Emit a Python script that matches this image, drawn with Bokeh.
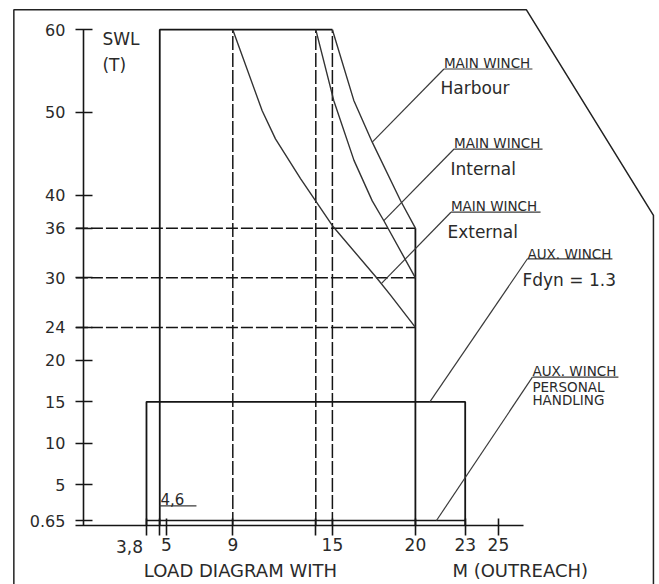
from bokeh.plotting import figure
from bokeh.models import Range1d, FixedTicker
from bokeh.core.properties import value
from bokeh.embed import file_html
from bokeh.resources import INLINE

# ---------------- data ----------------
# axis ticks
OUTREACH_TICKS = [3.8, 4.6, 5, 9, 14, 15, 20, 23, 25]
OUTREACH_LABELS = ["", "", "5", "9", "", "15", "20", "23", "25"]
SWL_TICKS = [0.65, 5, 10, 15, 20, 24, 30, 36, 40, 50, 60]
SWL_LABELS = ["0.65", "5", "10", "15", "20", "24", "30", "36", "40", "50", "60"]

# main winch curves (outreach m, SWL t)
HARBOUR_X = [15, 16.29, 17.4, 19.1, 20]
HARBOUR_Y = [60, 51.45, 46.4, 39.35, 36]
INTERNAL_X = [14, 15.08, 16.3, 17.4, 18.1, 20]
INTERNAL_Y = [60, 51.45, 44.2, 39.3, 36.9, 30]
EXTERNAL_X = [9, 10.77, 11.57, 13.08, 15.0, 17.6, 18.5, 20]
EXTERNAL_Y = [60, 50.2, 46.8, 42.0, 36.3, 30.15, 27.9, 24]

# envelopes
MAIN_MIN_OUTREACH = 4.6
MAIN_MAX_OUTREACH = 20
MAIN_SWL = 60
AUX_MIN_OUTREACH = 3.8
AUX_MAX_OUTREACH = 23
AUX_SWL = 15
PERSONAL_SWL = 0.65

# reference (dashed) lines
REF_OUTREACH = [9, 14, 15]
REF_SWL = [36, 30, 24]

# ---------------- figure ----------------
p = figure(width=659, height=584, title=None,
           x_range=Range1d(-4.994, 34.705), y_range=Range1d(-7.086, 63.531),
           output_backend="svg", toolbar_location=None, min_border=0)
p.outline_line_color = None
p.grid.visible = False
p.background_fill_color = "white"

INK = "#151515"
TXT = "#2a2a2a"
FONT = value("DejaVu Sans")

# drawing border (frame of the sheet)
BORDER_X = [-4.19, -4.19, 26.69, 34.34, 34.34]
BORDER_Y = [-8, 62.41, 62.41, 37.55, -8]
p.line(BORDER_X, BORDER_Y, line_color="#222222", line_width=1.5)

# dashed reference lines
p.segment(x0=REF_OUTREACH, y0=[0] * len(REF_OUTREACH), x1=REF_OUTREACH,
          y1=[MAIN_SWL] * len(REF_OUTREACH), line_color=INK, line_width=1.5,
          line_dash="14 3")
p.segment(x0=[-0.45] * len(REF_SWL), y0=REF_SWL, x1=[MAIN_MAX_OUTREACH] * len(REF_SWL),
          y1=REF_SWL, line_color=INK, line_width=1.5, line_dash="12 3")

# main winch envelope
p.line([MAIN_MIN_OUTREACH, MAIN_MIN_OUTREACH, HARBOUR_X[0]], [0, MAIN_SWL, MAIN_SWL],
       line_color=INK, line_width=1.8)
p.line([MAIN_MAX_OUTREACH, MAIN_MAX_OUTREACH], [0, HARBOUR_Y[-1]],
       line_color=INK, line_width=1.8)

# aux winch envelope
p.line([AUX_MIN_OUTREACH, AUX_MIN_OUTREACH, AUX_MAX_OUTREACH, AUX_MAX_OUTREACH],
       [0, AUX_SWL, AUX_SWL, 0], line_color=INK, line_width=1.8)
p.line([AUX_MIN_OUTREACH, AUX_MAX_OUTREACH], [PERSONAL_SWL, PERSONAL_SWL],
       line_color=INK, line_width=1.6)

# curves
for cx, cy in [(HARBOUR_X, HARBOUR_Y), (INTERNAL_X, INTERNAL_Y), (EXTERNAL_X, EXTERNAL_Y)]:
    p.line(cx, cy, line_color="#333333", line_width=1.4, line_join="round")

# leader lines
LEAD_X0 = [21.72, 22.33, 22.14, 26.75, 27.05]
LEAD_Y0 = [55.25, 45.57, 37.93, 32.3, 17.98]
LEAD_X1 = [17.40, 18.1, 17.96, 20.87, 21.27]
LEAD_Y1 = [46.40, 36.92, 29.32, 15.0, 0.65]
p.segment(x0=LEAD_X0, y0=LEAD_Y0, x1=LEAD_X1, y1=LEAD_Y1, line_color="#3a3a3a", line_width=1.2)

# underlines
UL_X0 = [21.72, 22.33, 22.14, 26.75, 27.05, 4.6]
UL_X1 = [27.05, 27.66, 27.54, 31.87, 32.23, 6.81]
UL_Y = [55.25, 45.57, 37.93, 32.3, 17.98, 2.41]
p.segment(x0=UL_X0, y0=UL_Y, x1=UL_X1, y1=UL_Y, line_color="#3a3a3a", line_width=1.2)

# small labels (y = vertical middle of the letters)
SMALL_TEXT = ["MAIN WINCH", "MAIN WINCH", "MAIN WINCH", "AUX. WINCH", "AUX. WINCH",
              "PERSONAL", "HANDLING"]
SMALL_X = [21.72, 22.33, 22.14, 26.75, 27.05, 27.05, 27.05]
SMALL_Y = [56.03, 46.30, 38.71, 32.90, 18.67, 16.83, 15.22]
p.text(x=SMALL_X, y=SMALL_Y, text=SMALL_TEXT, text_font=FONT,
       text_font_size=value("13.5px"), text_align="left", text_baseline="middle",
       text_color=TXT)

# large labels
BIG_TEXT = ["SWL", "(T)", "Harbour", "Internal", "External", "Fdyn = 1.3"]
BIG_X = [1.15, 1.15, 21.51, 22.11, 21.93, 26.45]
BIG_Y = [58.88, 55.77, 53.01, 43.12, 35.51, 29.71]
p.text(x=BIG_X, y=BIG_Y, text=BIG_TEXT, text_font=FONT,
       text_font_size=value("17px"), text_align="left", text_baseline="middle",
       text_color=TXT)

# 4,6 marker
p.text(x=[4.64], y=[3.29], text=["4,6"], text_font=FONT, text_font_size=value("15px"),
       text_align="left", text_baseline="middle", text_color=TXT)

# 3,8 tick label (offset to the left of its tick)
p.text(x=[2.78], y=[-2.53], text=["3,8"], text_font=FONT, text_font_size=value("17px"),
       text_align="center", text_baseline="middle", text_color=TXT)

# bottom captions
p.text(x=[3.64, 22.23], y=[-5.42, -5.42], text=["LOAD DIAGRAM WITH", "M (OUTREACH)"],
       text_font=FONT, text_font_size=value("18px"), text_align="left",
       text_baseline="middle", text_color=TXT)

# ---------------- axes ----------------
xa = p.xaxis[0]
xa.fixed_location = 0
xa.bounds = (-0.47, 26.49)
xa.ticker = FixedTicker(ticks=OUTREACH_TICKS)
xa.major_label_overrides = dict(zip(OUTREACH_TICKS, OUTREACH_LABELS))
xa.major_tick_in = 7
xa.major_tick_out = 10
xa.major_label_standoff = 2
xa.major_label_text_font_size = "17px"

ya = p.yaxis[0]
ya.fixed_location = 0
ya.bounds = (0, 60)
ya.ticker = FixedTicker(ticks=SWL_TICKS)
ya.major_label_overrides = dict(zip(SWL_TICKS, SWL_LABELS))
ya.major_tick_in = 9
ya.major_tick_out = 8
ya.major_label_standoff = 10
ya.major_label_text_font_size = "16px"

for ax in (xa, ya):
    ax.minor_tick_line_color = None
    ax.axis_line_color = INK
    ax.axis_line_width = 1.6
    ax.major_tick_line_color = INK
    ax.major_tick_line_width = 1.6
    ax.major_label_text_font = "DejaVu Sans"
    ax.major_label_text_color = TXT

open("out.html", "w").write(file_html(p, INLINE))
